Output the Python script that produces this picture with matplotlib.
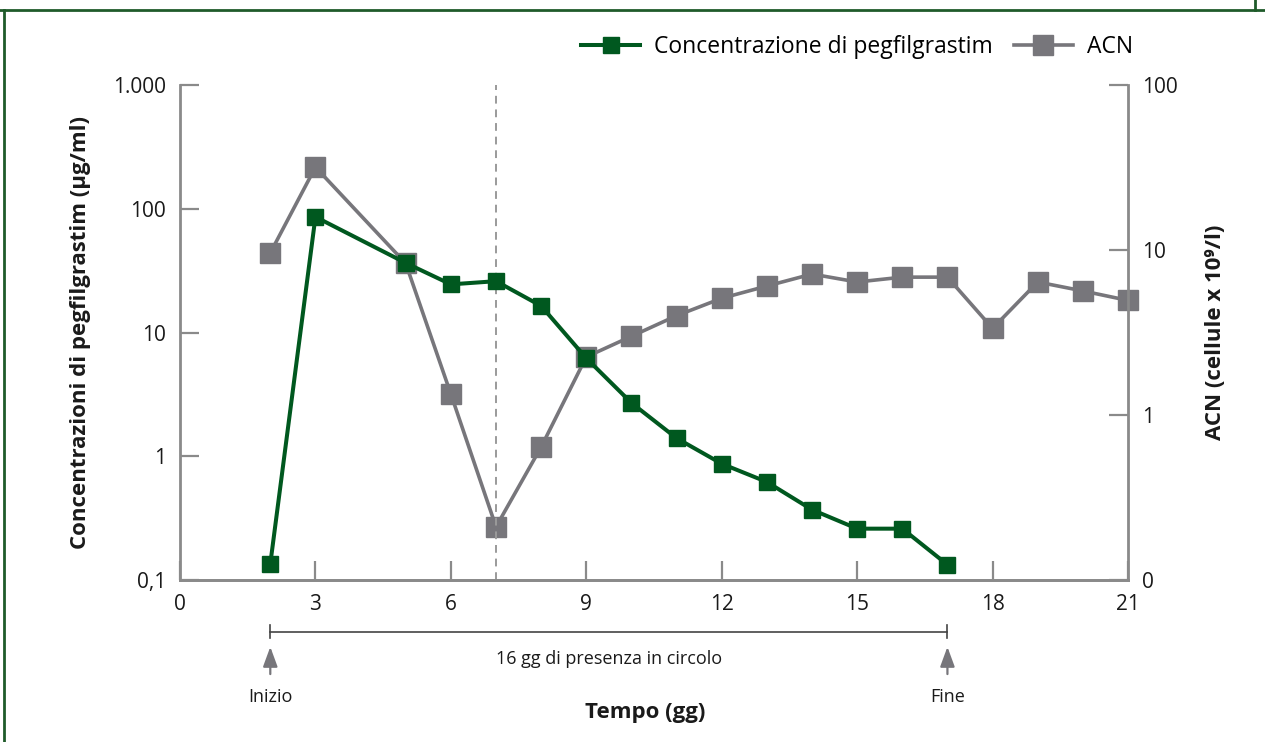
import matplotlib
matplotlib.use('Agg')
import matplotlib.pyplot as plt
from matplotlib.ticker import FixedLocator, FixedFormatter, NullLocator
from matplotlib.lines import Line2D

plt.rcParams['font.family'] = ['Open Sans', 'DejaVu Sans']

GREEN = '#00581f'
GRAY = '#77767b'
AXIS = '#8a8a8a'
TEXT = '#1a1a1a'

# pegfilgrastim concentration (µg/ml), left axis
peg_days = [2, 3, 5, 6, 7, 8, 9, 10, 11, 12, 13, 14, 15, 16, 17]
peg_conc = [0.135, 86, 36.5, 24.5, 26, 16.4, 6.2, 2.7, 1.4, 0.87, 0.62, 0.37, 0.26, 0.26, 0.133]

# ACN (cells x 10^9/l), right axis
acn_days = [2, 3, 5, 6, 7, 8, 9, 10, 11, 12, 13, 14, 15, 16, 17, 18, 19, 20, 21]
acn_vals = [9.6, 31.8, 8.3, 1.34, 0.21, 0.64, 2.25, 3.0, 4.0, 5.1, 6.05, 7.15, 6.4,
            6.85, 6.85, 3.35, 6.4, 5.65, 4.95]

x_ticks = [0, 3, 6, 9, 12, 15, 18, 21]
left_ticks = [0.1, 1, 10, 100, 1000]
left_labels = ['0,1', '1', '10', '100', '1.000']
right_ticks = [0.1, 1, 10, 100]
right_labels = ['0', '1', '10', '100']

fig = plt.figure(figsize=(12.65, 7.42), dpi=100)
ax = fig.add_axes((0.1423, 0.2183, 0.7494, 0.6671))
ax2 = ax.twinx()

# green line drawn above gray one
ax.set_zorder(ax2.get_zorder() + 1)
ax.patch.set_visible(False)

ax2.plot(acn_days, acn_vals, color=GRAY, lw=2.6, marker='s', ms=14,
         mfc=GRAY, mec=GRAY, clip_on=False)
ax.plot(peg_days, peg_conc, color=GREEN, lw=2.9, marker='s', ms=11.5,
        mfc=GREEN, mec=GREEN, clip_on=False)

ax.axvline(7, color='#9a9a9a', lw=1.4, ls=(0, (4, 3)), zorder=0)

ax.set_xlim(0, 21)
ax.set_yscale('log')
ax.set_ylim(0.1, 1000)
ax2.set_yscale('log')
ax2.set_ylim(0.1, 100)

ax.xaxis.set_major_locator(FixedLocator(x_ticks))
ax.yaxis.set_major_locator(FixedLocator(left_ticks))
ax.yaxis.set_major_formatter(FixedFormatter(left_labels))
ax.yaxis.set_minor_locator(NullLocator())
ax2.yaxis.set_major_locator(FixedLocator(right_ticks))
ax2.yaxis.set_major_formatter(FixedFormatter(right_labels))
ax2.yaxis.set_minor_locator(NullLocator())

for a in (ax, ax2):
    a.spines['top'].set_visible(False)
    for s in ('left', 'right', 'bottom'):
        a.spines[s].set_color(AXIS)
        a.spines[s].set_linewidth(2)
    a.tick_params(direction='in', length=14, width=1.6, color=AXIS,
                  labelsize=15, labelcolor=TEXT, pad=10)
ax.spines['right'].set_visible(False)
ax2.spines['left'].set_visible(False)

ax.set_ylabel('Concentrazioni di pegfilgrastim (µg/ml)', fontsize=16,
              fontweight='bold', color=TEXT, labelpad=16)
ax2.set_ylabel('ACN (cellule x 10⁹/l)', fontsize=16, fontweight='bold',
               color=TEXT, labelpad=20)

# legend
handles = [
    Line2D([], [], color=GREEN, lw=2.9, marker='s', ms=11.5),
    Line2D([], [], color=GRAY, lw=2.6, marker='s', ms=14),
]
ax2.legend(handles, ['Concentrazione di pegfilgrastim', 'ACN'],
           loc='lower right', bbox_to_anchor=(1.015, 1.035), ncol=2,
           frameon=False, fontsize=16.5, handlelength=2.6, columnspacing=0.9,
           handletextpad=0.6, borderaxespad=0)

# duration bracket below the axis
trans = ax.get_xaxis_transform()
y_br = -0.104
ax.plot([2, 17], [y_br, y_br], color='#444444', lw=1.2, transform=trans, clip_on=False)
for xd in (2, 17):
    ax.plot([xd, xd], [y_br - 0.014, y_br + 0.014], color='#444444', lw=1.2,
            transform=trans, clip_on=False)
    ax.annotate('', xy=(xd, -0.135), xytext=(xd, -0.19), xycoords=trans,
                textcoords=trans,
                arrowprops=dict(arrowstyle='-|>,head_length=0.6,head_width=0.22',
                                color=GRAY, lw=1.6,
                                mutation_scale=20, shrinkA=0, shrinkB=0))
ax.text(9.5, -0.16, '16 gg di presenza in circolo', transform=trans,
        ha='center', va='center', fontsize=13, color=TEXT)
ax.text(2, -0.237, 'Inizio', transform=trans, ha='center', va='center',
        fontsize=13, color=TEXT)
ax.text(17, -0.237, 'Fine', transform=trans, ha='center', va='center',
        fontsize=13, color=TEXT)
ax.text(10.3, -0.268, 'Tempo (gg)', transform=trans, ha='center', va='center',
        fontsize=16, fontweight='bold', color=TEXT)

# page frame fragments
fig.add_artist(Line2D([0, 1], [0.986, 0.986], color='#1f5b2a', lw=2,
                      transform=fig.transFigure))
fig.add_artist(Line2D([0.0035, 0.0035], [0, 0.986], color='#1f5b2a', lw=2,
                      transform=fig.transFigure))
fig.add_artist(Line2D([0.992, 0.992], [0.986, 1.0], color='#1f5b2a', lw=2,
                      transform=fig.transFigure))

fig.savefig('out.png', dpi=100, facecolor='white')
